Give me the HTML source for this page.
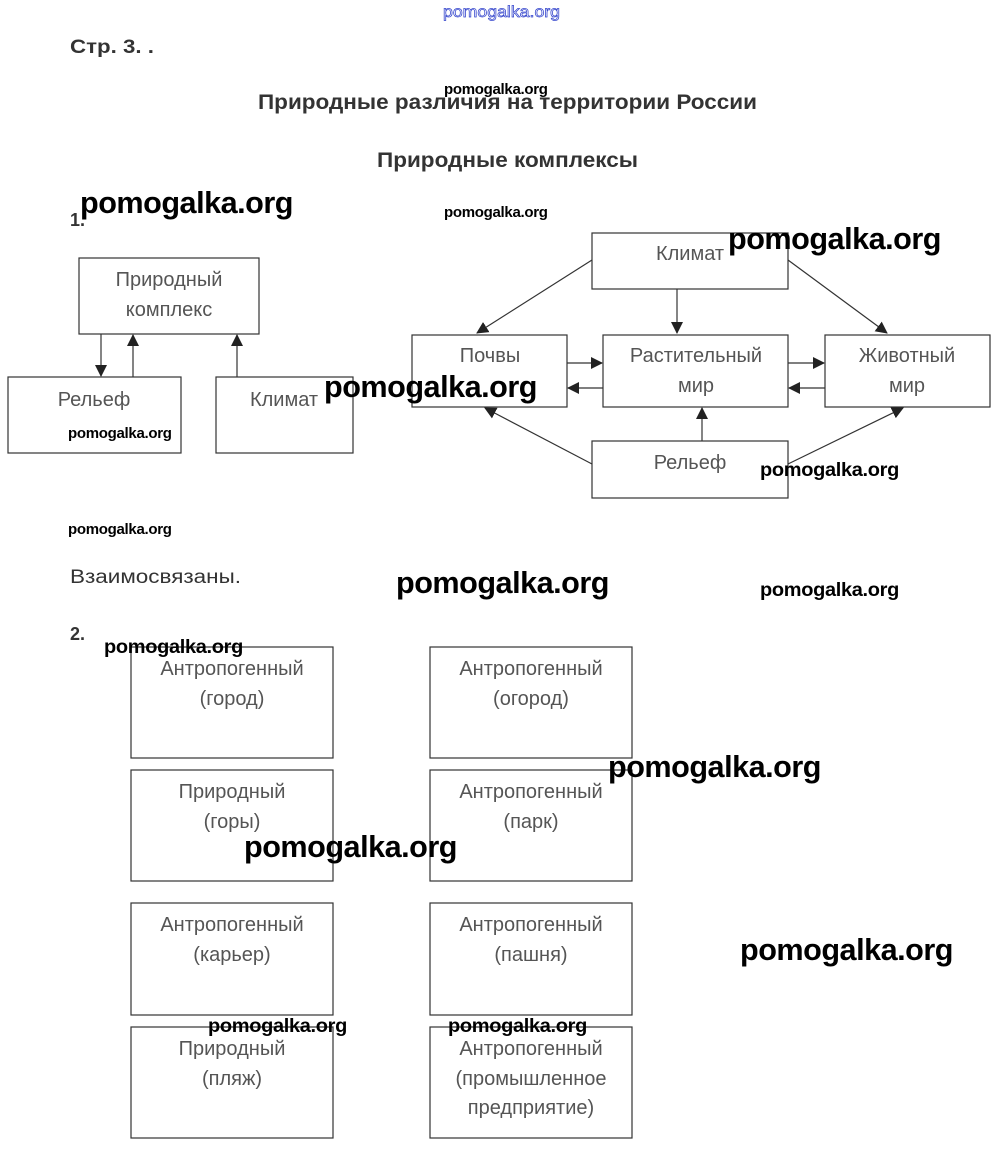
<!DOCTYPE html>
<html><head><meta charset="utf-8"><style>
html,body{margin:0;padding:0;background:#fff;}
svg{display:block;}
.t{font-family:"Liberation Sans",sans-serif;fill:#333;}
.b{font-family:"Liberation Sans",sans-serif;fill:#555;font-size:20px;text-anchor:middle;}
.w{font-family:"Liberation Sans",sans-serif;font-weight:bold;fill:#000;}
.wl{font-size:31px;letter-spacing:-0.5px;}
.ws{font-size:15px;letter-spacing:-0.3px;}
.wm{font-size:19px;letter-spacing:-0.3px;}
rect{fill:none;stroke:#333;stroke-width:1.2;}
line{stroke:#333;stroke-width:1.2;}
</style></head><body>
<svg width="1000" height="1151" viewBox="0 0 1000 1151" xmlns="http://www.w3.org/2000/svg">
<defs><marker id="a" markerWidth="12" markerHeight="12" refX="11" refY="6" orient="auto" markerUnits="userSpaceOnUse"><path d="M0,0 L12,6 L0,12 z" fill="#222"/></marker></defs>
<text x="443" y="17" font-family="Liberation Sans,sans-serif" font-size="16" fill="none" stroke="#3344cc" stroke-width="0.7" textLength="117" lengthAdjust="spacingAndGlyphs">pomogalka.org</text>
<text class="t" x="70" y="53" font-size="19" font-weight="bold" textLength="84" lengthAdjust="spacingAndGlyphs">Стр. 3. .</text>
<text class="t" x="258" y="109" font-size="21" font-weight="bold" textLength="499" lengthAdjust="spacingAndGlyphs">Природные различия на территории России</text>
<text class="t" x="377" y="167" font-size="21" font-weight="bold" textLength="261" lengthAdjust="spacingAndGlyphs">Природные комплексы</text>
<text class="t" x="70" y="226" font-size="18" font-weight="bold">1.</text>
<text class="w ws" x="444" y="94">pomogalka.org</text>
<text class="w ws" x="444" y="217">pomogalka.org</text>

<rect x="79" y="258" width="180" height="76"/>
<text class="b" x="169" y="286">Природный</text><text class="b" x="169" y="316">комплекс</text>
<rect x="8" y="377" width="173" height="76"/><text class="b" x="94" y="406">Рельеф</text>
<rect x="216" y="377" width="137" height="76"/><text class="b" x="284" y="406">Климат</text>
<line x1="101" y1="334" x2="101" y2="376" marker-end="url(#a)"/>
<line x1="133" y1="377" x2="133" y2="335" marker-end="url(#a)"/>
<line x1="237" y1="377" x2="237" y2="335" marker-end="url(#a)"/>

<rect x="592" y="233" width="196" height="56"/><text class="b" x="690" y="260">Климат</text>
<rect x="412" y="335" width="155" height="72"/><text class="b" x="490" y="362">Почвы</text>
<rect x="603" y="335" width="185" height="72"/><text class="b" x="696" y="362">Растительный</text><text class="b" x="696" y="392">мир</text>
<rect x="825" y="335" width="165" height="72"/><text class="b" x="907" y="362">Животный</text><text class="b" x="907" y="392">мир</text>
<rect x="592" y="441" width="196" height="57"/><text class="b" x="690" y="469">Рельеф</text>
<line x1="592" y1="260" x2="477" y2="333" marker-end="url(#a)"/>
<line x1="677" y1="289" x2="677" y2="333" marker-end="url(#a)"/>
<line x1="788" y1="260" x2="887" y2="333" marker-end="url(#a)"/>
<line x1="567" y1="363" x2="602" y2="363" marker-end="url(#a)"/>
<line x1="603" y1="388" x2="568" y2="388" marker-end="url(#a)"/>
<line x1="788" y1="363" x2="824" y2="363" marker-end="url(#a)"/>
<line x1="825" y1="388" x2="789" y2="388" marker-end="url(#a)"/>
<line x1="702" y1="441" x2="702" y2="408" marker-end="url(#a)"/>
<line x1="592" y1="464" x2="485" y2="408" marker-end="url(#a)"/>
<line x1="788" y1="464" x2="903" y2="408" marker-end="url(#a)"/>

<text class="w wl" x="80" y="213" textLength="213" lengthAdjust="spacingAndGlyphs">pomogalka.org</text>
<text class="w wl" x="728" y="249" textLength="213" lengthAdjust="spacingAndGlyphs">pomogalka.org</text>
<text class="w wl" x="324" y="397" textLength="213" lengthAdjust="spacingAndGlyphs">pomogalka.org</text>
<text class="w ws" x="68" y="438">pomogalka.org</text>
<text class="w wm" x="760" y="476" textLength="139" lengthAdjust="spacingAndGlyphs">pomogalka.org</text>
<text class="w ws" x="68" y="534">pomogalka.org</text>

<text class="t" x="70" y="583" font-size="19" fill="#555" textLength="171" lengthAdjust="spacingAndGlyphs">Взаимосвязаны.</text>
<text class="w wl" x="396" y="593" textLength="213" lengthAdjust="spacingAndGlyphs">pomogalka.org</text>
<text class="w wm" x="760" y="596" textLength="139" lengthAdjust="spacingAndGlyphs">pomogalka.org</text>
<text class="t" x="70" y="640" font-size="18" font-weight="bold">2.</text>

<rect x="131" y="647" width="202" height="111"/><text class="b" x="232" y="675">Антропогенный</text><text class="b" x="232" y="705">(город)</text>
<rect x="430" y="647" width="202" height="111"/><text class="b" x="531" y="675">Антропогенный</text><text class="b" x="531" y="705">(огород)</text>
<rect x="131" y="770" width="202" height="111"/><text class="b" x="232" y="798">Природный</text><text class="b" x="232" y="828">(горы)</text>
<rect x="430" y="770" width="202" height="111"/><text class="b" x="531" y="798">Антропогенный</text><text class="b" x="531" y="828">(парк)</text>
<rect x="131" y="903" width="202" height="112"/><text class="b" x="232" y="931">Антропогенный</text><text class="b" x="232" y="961">(карьер)</text>
<rect x="430" y="903" width="202" height="112"/><text class="b" x="531" y="931">Антропогенный</text><text class="b" x="531" y="961">(пашня)</text>
<rect x="131" y="1027" width="202" height="111"/><text class="b" x="232" y="1055">Природный</text><text class="b" x="232" y="1085">(пляж)</text>
<rect x="430" y="1027" width="202" height="111"/><text class="b" x="531" y="1055">Антропогенный</text><text class="b" x="531" y="1085">(промышленное</text><text class="b" x="531" y="1114">предприятие)</text>

<text class="w wm" x="104" y="653" textLength="139" lengthAdjust="spacingAndGlyphs">pomogalka.org</text>
<text class="w wl" x="608" y="777" textLength="213" lengthAdjust="spacingAndGlyphs">pomogalka.org</text>
<text class="w wl" x="244" y="857" textLength="213" lengthAdjust="spacingAndGlyphs">pomogalka.org</text>
<text class="w wl" x="740" y="960" textLength="213" lengthAdjust="spacingAndGlyphs">pomogalka.org</text>
<text class="w wm" x="208" y="1032" textLength="139" lengthAdjust="spacingAndGlyphs">pomogalka.org</text>
<text class="w wm" x="448" y="1032" textLength="139" lengthAdjust="spacingAndGlyphs">pomogalka.org</text>
</svg>
</body></html>
